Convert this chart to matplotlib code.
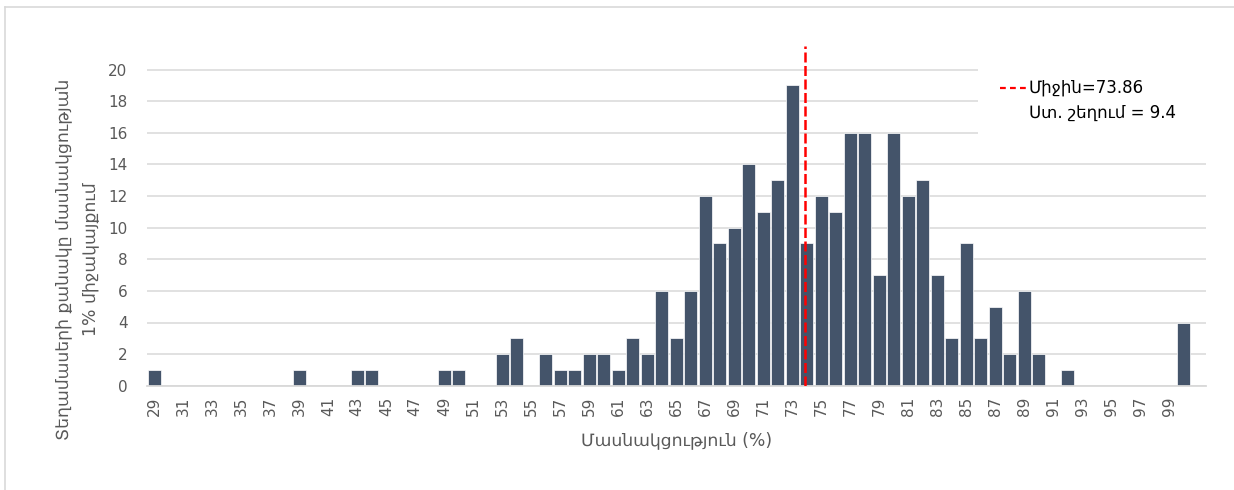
import matplotlib
matplotlib.use("Agg")
import matplotlib.pyplot as plt
from matplotlib.lines import Line2D
from matplotlib.patches import Rectangle

# ---- data ----
categories = list(range(29, 101))
counts = [1, 0, 0, 0, 0, 0, 0, 0, 0, 0,      # 29-38
          1, 0, 0, 0, 1, 1, 0, 0, 0, 0,      # 39-48
          1, 1, 0, 0, 2, 3, 0, 2, 1, 1,      # 49-58
          2, 2, 1, 3, 2, 6, 3, 6, 12, 9,     # 59-68
          10, 14, 11, 13, 19, 9, 12, 11, 16, 16,  # 69-78
          7, 16, 12, 13, 7, 3, 9, 3, 5, 2,   # 79-88
          6, 2, 0, 1, 0, 0, 0, 0, 0, 0,      # 89-98
          0, 4]                              # 99-100
x_tick_values = [29, 31, 33, 35, 37, 39, 41, 43, 45, 47, 49, 51, 53, 55, 57, 59, 61, 63,
                 65, 67, 69, 71, 73, 75, 77, 79, 81, 83, 85, 87, 89, 91, 93, 95, 97, 99]
x_tick_labels = [str(v) for v in x_tick_values]
y_ticks = [0, 2, 4, 6, 8, 10, 12, 14, 16, 18, 20]
mean_value = 73.86
std_value = 9.4

x_title = "Մասնակցություն (%)"
y_title_1 = "Տեղամասերի քանակը մասնակցության"
y_title_2 = "1% միջակայքում"
legend_1 = f"Միջին={mean_value}"
legend_2 = f"Ստ. շեղում = {std_value}"

# ---- styling ----
W, H = 1234, 490
plt.rcParams['font.family'] = ['DejaVu Sans']
BAR = "#44546A"
GRID = "#D9D9D9"
TXT = "#595959"

def fx(px):
    return px / W

def fy(py):
    return 1 - py / H

fig = plt.figure(figsize=(W / 100, H / 100), dpi=100)
fig.patch.set_facecolor("white")

left, right, top, bottom = 147, 1205.5, 46, 385.7
ax = fig.add_axes([fx(left), fy(bottom), (right - left) / W, (bottom - top) / H])

ax.bar(categories, counts, width=0.9, color=BAR, edgecolor="white", linewidth=0.5, zorder=3)
ax.set_xlim(28.5, 101.5)
ax.set_ylim(0, 21.5)
ax.set_yticks(y_ticks)
ax.set_xticks(x_tick_values)
ax.set_xticklabels(x_tick_labels, rotation=90, va="top", ha="center")
ax.yaxis.grid(True, color=GRID, linewidth=1.1, zorder=0)
ax.set_axisbelow(True)
for s in ["left", "right", "top"]:
    ax.spines[s].set_visible(False)
ax.spines["bottom"].set_color(GRID)
ax.spines["bottom"].set_linewidth(1.3)
ax.spines["bottom"].set_zorder(4)
ax.tick_params(axis="both", length=0, labelcolor=TXT, labelsize=11)
ax.tick_params(axis="y", pad=14)
ax.tick_params(axis="x", pad=8)

# mean line
ax.axvline(mean_value, ymin=0, ymax=1, color="#FF0000", linewidth=1.8,
           dashes=(4, 1.4), zorder=5)

# chart border (top and left visible)
fig.add_artist(Line2D([fx(5), fx(W + 5)], [fy(7), fy(7)], color=GRID, linewidth=1.2))
fig.add_artist(Line2D([fx(5), fx(5)], [fy(7), fy(H + 5)], color=GRID, linewidth=1.2))

# legend area
fig.add_artist(Rectangle((fx(978), fy(148)), fx(1222) - fx(978), fy(40) - fy(148),
                         transform=fig.transFigure, facecolor="white", edgecolor="none", zorder=2))
fig.add_artist(Line2D([fx(1000), fx(1028)], [fy(88), fy(88)], color="#FF0000",
                      linewidth=1.6, dashes=(2.6, 1.9), zorder=3))
fig.text(fx(1029), fy(88), legend_1, ha="left", va="center", fontsize=12, color="black", zorder=3)
fig.text(fx(1029), fy(113), legend_2, ha="left", va="center", fontsize=12, color="black", zorder=3)

# axis titles
fig.text(fx(677), fy(440), x_title, ha="center", va="center", fontsize=12.4, color=TXT)
fig.text(fx(63), fy(259), y_title_1, ha="center", va="center", rotation=90, fontsize=12.4, color=TXT)
fig.text(fx(90), fy(259), y_title_2, ha="center", va="center", rotation=90, fontsize=12.4, color=TXT)

fig.savefig("out.png", dpi=100)
